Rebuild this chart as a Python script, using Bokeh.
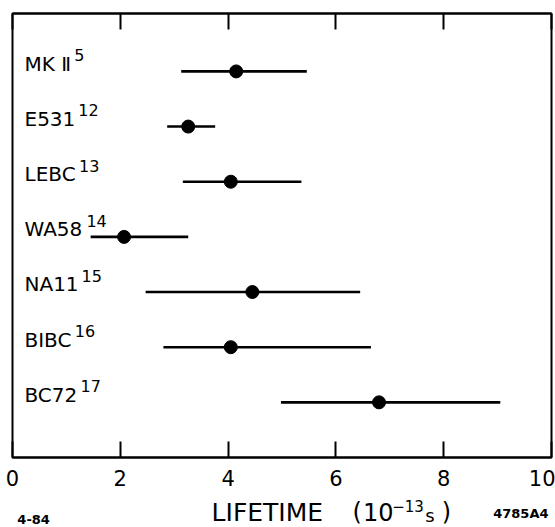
from bokeh.plotting import figure
from bokeh.layouts import column
from bokeh.models import Range1d, LinearAxis, FixedTicker, ColumnDataSource
from bokeh.core.properties import value
from bokeh.embed import file_html
from bokeh.resources import INLINE

# ---- data ----
experiments = ["MK Ⅱ", "E531", "LEBC", "WA58", "NA11", "BIBC", "BC72"]
references = ["5", "12", "13", "14", "15", "16", "17"]
lifetime = [4.15, 3.26, 4.05, 2.07, 4.45, 4.05, 6.8]
err_low = [3.13, 2.87, 3.16, 1.45, 2.47, 2.8, 4.98]
err_high = [5.46, 3.76, 5.36, 3.26, 6.45, 6.65, 9.05]
tick_values = [0, 2, 4, 6, 8, 10]
x_title = ["LIFETIME", "(", "10", "−13", "s", ")"]
corner_notes = ["4-84", "4785A4"]

FONT = "DejaVu Sans"
W, H = 555, 527
MAIN_H = 494
FRAME_W, FRAME_H = 539, 444
X0, X1 = 0, 10
Y0, Y1 = 0, 8.05
PX_X = FRAME_W / (X1 - X0)
PX_Y = FRAME_H / (Y1 - Y0)
LEFT, TOP = 12, 13
BASE_FIX = 0.38  # svg text baseline correction (em)

# DejaVu Sans advance widths (em)
ADV = {"M": 0.863, "K": 0.656, " ": 0.318, "Ⅱ": 0.5, "E": 0.632, "L": 0.557,
       "B": 0.686, "C": 0.698, "W": 0.989, "A": 0.684, "N": 0.748, "I": 0.295}


def text_width(s, size):
    return sum(ADV.get(ch, 0.636) for ch in s) * size


def sx(px):  # canvas px -> lifetime units
    return X0 + (px - LEFT) / PX_X


n = len(experiments)
rows = [n - i for i in range(n)]

p = figure(width=W, height=MAIN_H, output_backend="svg", toolbar_location=None,
           title=None,
           x_range=Range1d(X0, X1), y_range=Range1d(Y0, Y1),
           x_axis_location=None, y_axis_location=None,
           min_border_left=LEFT, min_border_right=W - LEFT - FRAME_W,
           min_border_top=TOP, min_border_bottom=MAIN_H - TOP - FRAME_H)
p.grid.visible = False
p.outline_line_color = "black"
p.outline_line_width = 2
p.background_fill_color = "white"
p.border_fill_color = "white"

bottom = LinearAxis(ticker=FixedTicker(ticks=tick_values))
bottom.major_tick_in = 16
bottom.major_tick_out = 0
bottom.minor_tick_line_color = None
bottom.major_tick_line_width = 2
bottom.axis_line_width = 2
bottom.major_label_text_font = FONT
bottom.major_label_text_font_size = "21px"
bottom.major_label_text_color = "black"
bottom.major_label_standoff = 12
p.add_layout(bottom, "below")

top = LinearAxis(ticker=FixedTicker(ticks=tick_values))
top.major_tick_in = 16
top.major_tick_out = 0
top.minor_tick_line_color = None
top.major_tick_line_width = 2
top.axis_line_width = 2
top.major_label_text_font_size = "1px"
top.major_label_text_color = None
top.major_label_standoff = 0
p.add_layout(top, "above")

src = ColumnDataSource(dict(name=experiments, ref=references, t=lifetime,
                            lo=err_low, hi=err_high, y=rows))
p.segment(x0="lo", x1="hi", y0="y", y1="y", source=src,
          line_color="black", line_width=2.6)
p.scatter(x="t", y="y", source=src, size=13, color="black")

NAME_SIZE = 20
SUP_SIZE = 16
name_x = sx(24)
name_y = [r + BASE_FIX * NAME_SIZE / PX_Y for r in rows]
p.text(x=[name_x] * n, y=name_y, text=experiments, text_font=value(FONT),
       text_font_size=f"{NAME_SIZE}px", text_baseline="alphabetic",
       text_align="left", text_color="black")
sup_x = [name_x + (text_width(s, NAME_SIZE) + 3) / PX_X for s in experiments]
sup_y = [r + (10 + BASE_FIX * SUP_SIZE) / PX_Y for r in rows]
p.text(x=sup_x, y=sup_y, text=references, text_font=value(FONT),
       text_font_size=f"{SUP_SIZE}px", text_baseline="alphabetic",
       text_align="left", text_color="black")

# ---- strip below the main plot for the axis title and corner notes ----
q = figure(width=W, height=H - MAIN_H, output_backend="svg", toolbar_location=None,
           title=None,
           x_range=Range1d(sx(0), sx(W)), y_range=Range1d(H, MAIN_H),
           x_axis_location=None, y_axis_location=None,
           min_border=0, min_border_left=0, min_border_right=0,
           min_border_top=0, min_border_bottom=0)
q.grid.visible = False
q.outline_line_color = None
q.background_fill_color = "white"
q.border_fill_color = "white"

# (left px, baseline px, font size)
title_pos = [(205, 521, 25), (350, 521, 24), (361, 521, 24),
             (391, 511, 15), (425, 522, 18), (442, 521, 24)]
for txt, (lx, by, fs) in zip(x_title, title_pos):
    q.text(x=[sx(lx)], y=[by - BASE_FIX * fs], text=[txt], text_font=value(FONT),
           text_font_size=f"{fs}px", text_baseline="alphabetic",
           text_align="left", text_color="black")

note_pos = [(5, 524), (495, 518)]
for txt, (lx, by) in zip(corner_notes, note_pos):
    q.text(x=[sx(lx)], y=[by - BASE_FIX * 13], text=[txt], text_font=value(FONT),
           text_font_size="13px", text_font_style="bold",
           text_baseline="alphabetic", text_align="left", text_color="black")

layout = column(p, q, spacing=0)
open("out.html", "w").write(file_html(layout, INLINE))
